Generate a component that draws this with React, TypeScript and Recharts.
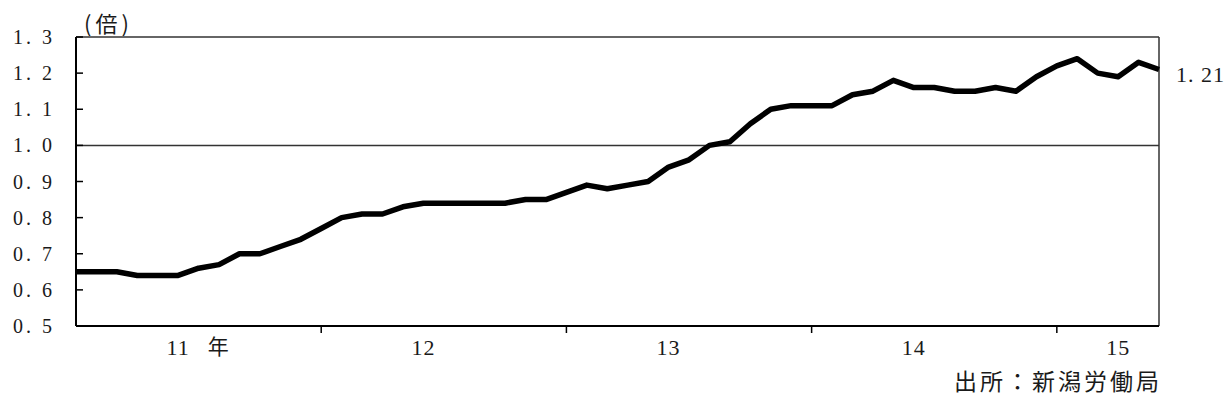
import { LineChart, Line, XAxis, YAxis, ReferenceLine, LabelList } from 'recharts'

// 月次（11年1月〜15年6月）
const months = [
  '11/1', '11/2', '11/3', '11/4', '11/5', '11/6', '11/7', '11/8', '11/9', '11/10', '11/11', '11/12',
  '12/1', '12/2', '12/3', '12/4', '12/5', '12/6', '12/7', '12/8', '12/9', '12/10', '12/11', '12/12',
  '13/1', '13/2', '13/3', '13/4', '13/5', '13/6', '13/7', '13/8', '13/9', '13/10', '13/11', '13/12',
  '14/1', '14/2', '14/3', '14/4', '14/5', '14/6', '14/7', '14/8', '14/9', '14/10', '14/11', '14/12',
  '15/1', '15/2', '15/3', '15/4', '15/5', '15/6',
]

// 有効求人倍率（倍）
const ratio = [
  0.65, 0.65, 0.65, 0.64, 0.64, 0.64, 0.66, 0.67, 0.7, 0.7, 0.72, 0.74,
  0.77, 0.8, 0.81, 0.81, 0.83, 0.84, 0.84, 0.84, 0.84, 0.84, 0.85, 0.85,
  0.87, 0.89, 0.88, 0.89, 0.9, 0.94, 0.96, 1.0, 1.01, 1.06, 1.1, 1.11,
  1.11, 1.11, 1.14, 1.15, 1.18, 1.16, 1.16, 1.15, 1.15, 1.16, 1.15, 1.19,
  1.22, 1.24, 1.2, 1.19, 1.23, 1.21,
]

const yTicks = [0.5, 0.6, 0.7, 0.8, 0.9, 1.0, 1.1, 1.2, 1.3]
const yearLabels = ['11', '12', '13', '14', '15']
const yearLabelAt = ['11/6', '12/6', '13/6', '14/6', '15/4']
const yearStarts = ['12/1', '13/1', '14/1', '15/1']

const data = months.map((m, i) => ({ m, v: ratio[i] }))

const serif = "'Liberation Serif', 'DejaVu Serif', serif"
const cjk = "'Noto Sans CJK JP', sans-serif"
const ink = '#1a1a1a'

function fmt(v: number, digits: number) {
  return v.toFixed(digits).replace('.', '. ')
}

function YTick({ x, y, payload }: any) {
  return (
    <g>
      <line x1={x} x2={x + 7} y1={y} y2={y} stroke="#000" strokeWidth={1.5} />
      <text x={x - 21} y={y} dy="0.35em" textAnchor="end" fontFamily={serif} fontSize={20} letterSpacing={3} fill={ink}>
        {fmt(payload.value, 1)}
      </text>
    </g>
  )
}

function XTick({ x, y, payload }: any) {
  const v = payload.value
  if (yearStarts.includes(v)) {
    return <line x1={x} x2={x} y1={y} y2={y + 7} stroke="#000" strokeWidth={1.5} />
  }
  const li = yearLabelAt.indexOf(v)
  if (li < 0) return <g />
  return (
    <g fill={ink}>
      <text x={x} y={y + 21} dy="0.35em" textAnchor="middle" fontFamily={serif} fontSize={22} letterSpacing={1}>
        {yearLabels[li]}
      </text>
      {li === 0 && (
        <text x={x + 40} y={y + 21} dy="0.35em" textAnchor="middle" fontFamily={cjk} fontSize={21}>
          年
        </text>
      )}
    </g>
  )
}

function LastLabel({ x, y, index, value }: any) {
  if (index !== data.length - 1) return null
  return (
    <text x={x + 17} y={y + 5} dy="0.35em" fontFamily={serif} fontSize={22} letterSpacing={1} fill={ink}>
      {fmt(value, 2)}
    </text>
  )
}

export default function App() {
  return (
    <div style={{ position: 'absolute', left: 0, top: 0, width: 1228, height: 412, background: '#fff' }}>
      <div
        style={{
          position: 'absolute',
          left: 84,
          top: 11,
          fontFamily: cjk,
          fontSize: 22,
          letterSpacing: 4,
          color: ink,
          lineHeight: 1,
        }}
      >
        (倍)
      </div>
      <LineChart width={1228} height={412} data={data} margin={{ top: 37, right: 69, bottom: 56, left: 16 }}>
        <XAxis
          dataKey="m"
          ticks={[...yearLabelAt, ...yearStarts]}
          interval={0}
          tickLine={false}
          tickSize={0}
          tickMargin={0}
          height={30}
          axisLine={{ stroke: '#000', strokeWidth: 2 }}
          tick={<XTick />}
        />
        <YAxis
          type="number"
          domain={[0.5, 1.3]}
          ticks={yTicks}
          interval={0}
          width={60}
          tickLine={false}
          tickSize={0}
          tickMargin={0}
          axisLine={{ stroke: '#000', strokeWidth: 2 }}
          tick={<YTick />}
        />
        <ReferenceLine y={1.3} stroke="#333" strokeWidth={1.5} />
        <ReferenceLine y={1.0} stroke="#333" strokeWidth={1.5} />
        <ReferenceLine x={months[months.length - 1]} stroke="#333" strokeWidth={1.5} />
        <Line
          dataKey="v"
          stroke="#000"
          strokeWidth={5.5}
          strokeLinejoin="round"
          dot={false}
          activeDot={false}
          isAnimationActive={false}
        >
          <LabelList dataKey="v" content={<LastLabel />} />
        </Line>
      </LineChart>
      <div
        style={{
          position: 'absolute',
          right: 66,
          top: 369,
          fontFamily: cjk,
          fontSize: 23,
          letterSpacing: 3,
          color: ink,
          lineHeight: 1,
        }}
      >
        出所：新潟労働局
      </div>
    </div>
  )
}
